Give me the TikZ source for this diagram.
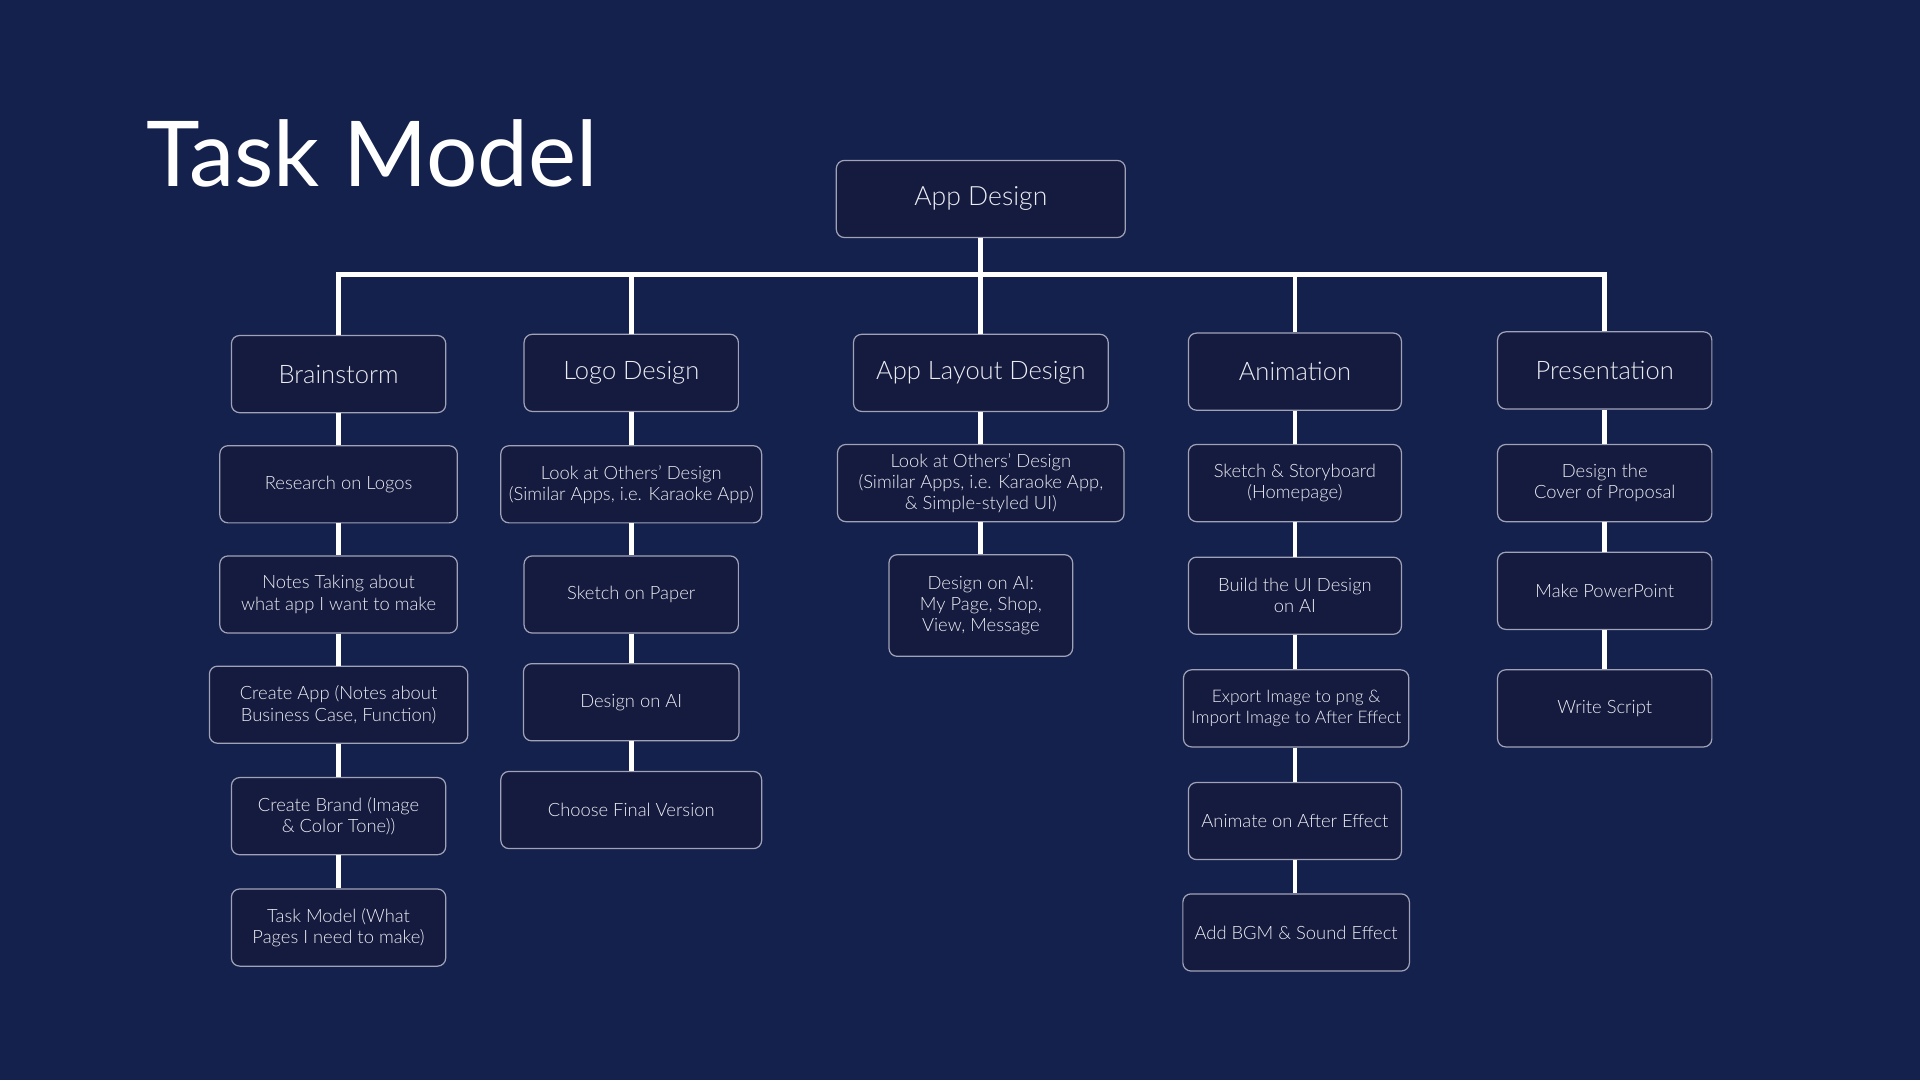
\documentclass[tikz,border=0pt]{standalone}
\usepackage{fontspec}
\setmainfont{Lato}
\newfontfamily\lightfont{Lato}[UprightFont={* Light}]
\definecolor{bgc}{RGB}{20,33,76}
\definecolor{boxc}{RGB}{21,26,63}
\definecolor{edgec}{RGB}{160,163,184}
\definecolor{txtc}{RGB}{236,237,242}
\begin{document}
\begin{tikzpicture}[x=0.6pt,y=-0.6pt,
  base/.style={draw=edgec,line width=0.6pt,fill=boxc,rounded corners=4pt,text=txtc,align=center,inner sep=0pt,minimum height=37.8pt,font=\lightfont\fontsize{9}{10.4}\selectfont},
  toplvl/.style={base,font=\lightfont\fontsize{12.5}{14}\selectfont},
  rootbox/.style={base,font=\lightfont\fontsize{13}{15}\selectfont},
  link/.style={draw=white,line width=2.3pt,line join=miter}]
\fill[bgc] (0,0) rectangle (1568,882);
\useasboundingbox (0,0) rectangle (1568,882);
\node[anchor=base west,text=white,font=\fontsize{44.5}{48}\selectfont,inner sep=0pt] (title) at (119,152) {Task Model};

\node[rootbox,minimum width=141.6pt] (root) at (801,162.5) {\raisebox{-1.5pt}{App Design}};
\coordinate (bar) at (801,224);

% level 1
\node[toplvl,minimum width=105pt] (b1) at (276.5,305.5) {Brainstorm};
\node[toplvl,minimum width=105pt] (b2) at (515.5,304.5) {Logo Design};
\node[toplvl,minimum width=124.8pt] (b3) at (801,304.5) {App Layout Design};
\node[toplvl,minimum width=104.4pt] (b4) at (1057.5,303.5) {Animation};
\node[toplvl,minimum width=105pt] (b5) at (1310.5,302.5) {Presentation};

% Brainstorm column
\node[base,minimum width=116.4pt] (b1a) at (276.5,395.5) {Research on Logos};
\node[base,minimum width=116.4pt] (b1b) at (276.5,485.5) {Notes Taking about\\what app I want to make};
\node[base,minimum width=126.6pt] (b1c) at (276.5,575.5) {Create App (Notes about\\Business Case, Function)};
\node[base,minimum width=105pt] (b1d) at (276.5,666.5) {Create Brand (Image\\\& Color Tone))};
\node[base,minimum width=105pt] (b1e) at (276.5,757.5) {Task Model (What\\Pages I need to make)};

% Logo column
\node[base,minimum width=127.8pt] (b2a) at (515.5,395.5) {Look at Others’ Design\\(Similar Apps, i.e. Karaoke App)};
\node[base,minimum width=105pt] (b2b) at (515.5,485.5) {Sketch on Paper};
\node[base,minimum width=105.6pt] (b2c) at (515.5,573.5) {Design on AI};
\node[base,minimum width=127.8pt] (b2d) at (515.5,661.5) {Choose Final Version};

% App layout column
\node[base,minimum width=140.4pt] (b3a) at (801,394.5) {Look at Others’ Design\\(Similar Apps, i.e. Karaoke App,\\\& Simple-styled UI)};
\node[base,minimum width=90pt,minimum height=49.8pt] (b3b) at (801,494.5) {Design on AI:\\My Page, Shop,\\View, Message};

% Animation column
\node[base,minimum width=104.4pt] (b4a) at (1057.5,394.5) {Sketch \& Storyboard\\(Homepage)};
\node[base,minimum width=104.4pt] (b4b) at (1057.5,486.5) {Build the UI Design\\on AI};
\node[base,minimum width=110.4pt,font=\lightfont\fontsize{8.5}{10.4}\selectfont] (b4c) at (1058.5,578.5) {Export Image to png \&\\Import Image to After Effect};
\node[base,minimum width=104.4pt] (b4d) at (1057.5,670.5) {Animate on After Effect};
\node[base,minimum width=111pt] (b4e) at (1058.5,761.5) {Add BGM \& Sound Effect};

% Presentation column
\node[base,minimum width=105pt] (b5a) at (1310.5,394.5) {Design the\\Cover of Proposal};
\node[base,minimum width=105pt] (b5b) at (1310.5,482.5) {Make PowerPoint};
\node[base,minimum width=105pt] (b5c) at (1310.5,578.5) {Write Script};

% connectors
\draw[link] (root.south) -- (bar);
\draw[link] (b1.north) |- (bar) -| (b5.north);
\draw[link] (b2.north) -- (b2.north |- bar);
\draw[link] (b3.north) -- (b3.north |- bar);
\draw[link] (b4.north) -- (b4.north |- bar);

\draw[link] (b1.south) -- (b1a.north);
\draw[link] (b1a.south) -- (b1b.north);
\draw[link] (b1b.south) -- (b1c.north);
\draw[link] (b1c.south) -- (b1d.north);
\draw[link] (b1d.south) -- (b1e.north);

\draw[link] (b2.south) -- (b2a.north);
\draw[link] (b2a.south) -- (b2b.north);
\draw[link] (b2b.south) -- (b2c.north);
\draw[link] (b2c.south) -- (b2d.north);

\draw[link] (b3.south) -- (b3a.north);
\draw[link] (b3a.south) -- (b3b.north);

\draw[link] (b4.south) -- (b4a.north);
\draw[link] (b4a.south) -- (b4b.north);
\draw[link] (b4b.south) -- (b4c.north -| b4b.south);
\draw[link] (b4c.south -| b4d.north) -- (b4d.north);
\draw[link] (b4d.south) -- (b4e.north -| b4d.south);

\draw[link] (b5.south) -- (b5a.north);
\draw[link] (b5a.south) -- (b5b.north);
\draw[link] (b5b.south) -- (b5c.north);
\end{tikzpicture}
\end{document}
